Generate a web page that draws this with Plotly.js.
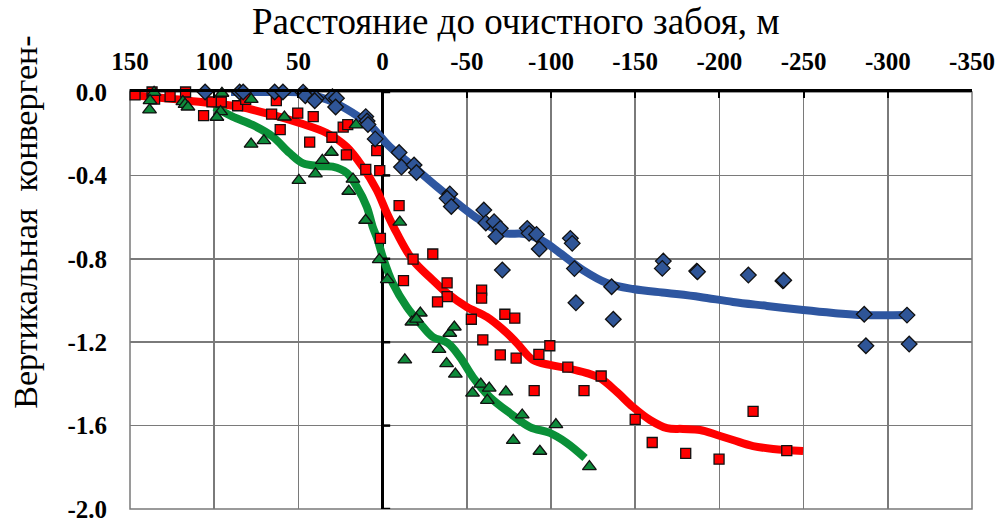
<!DOCTYPE html>
<html><head><meta charset="utf-8">
<script src="https://cdn.plot.ly/plotly-3.0.1.min.js"></script>
<style>html,body{margin:0;padding:0;background:#fff}</style>
</head><body>
<div id="chart" style="width:1000px;height:522px"></div>
<script>
// Tick labels
const xTickVals = [150,100,50,0,-50,-100,-150,-200,-250,-300,-350];
const xTickText = ['150','100','50','0','-50','-100','-150','-200','-250','-300','-350'];
const yTickVals = [0,-0.4,-0.8,-1.2,-1.6,-2.0];
const yTickText = ['0.0','-0.4','-0.8','-1.2','-1.6','-2.0'];

// Blue series (diamonds) and its trend line
const blueX = [105.4,84.9,82.8,64.1,59.2,47.2,45.9,39.4,40.3,29.8,27.4,27.9,10.0,9.2,8.7,4.4,-9.8,-11.2,-18.7,-20.1,-39.9,-38.3,-40.8,-60.1,-61.3,-66.2,-69.9,-67.3,-71.1,-85.9,-87.0,-91.4,-93.0,-111.5,-112.6,-113.9,-114.8,-136.0,-137.0,-166.7,-166.1,-186.5,-187.0,-217.2,-237.7,-238.2,-286.0,-311.4,-287.0,-312.7];
const blueY = [0,0,0,0,0,-0.001,-0.018,-0.031,-0.042,-0.023,-0.030,-0.072,-0.118,-0.139,-0.156,-0.225,-0.290,-0.360,-0.350,-0.386,-0.489,-0.510,-0.549,-0.566,-0.628,-0.622,-0.654,-0.693,-0.854,-0.654,-0.678,-0.683,-0.753,-0.702,-0.726,-0.847,-1.011,-0.934,-1.090,-0.811,-0.846,-0.859,-0.862,-0.878,-0.906,-0.903,-1.066,-1.070,-1.217,-1.209];
const blueLineX = [90,60,45,41.5,29.6,17.7,7.6,-4.2,-17.9,-32.2,-44.1,-57.7,-71.4,-84.5,-95.2,-105.3,-119.0,-133.2,-148.7,-168.9,-188.5,-208.1,-228.3,-249.7,-267.6,-285.4,-311.5];
const blueLineY = [0,0,-0.004,-0.014,-0.047,-0.100,-0.158,-0.262,-0.355,-0.454,-0.532,-0.614,-0.676,-0.681,-0.715,-0.772,-0.854,-0.916,-0.945,-0.964,-0.983,-1.007,-1.026,-1.046,-1.060,-1.070,-1.070];

// Red series (squares) and its trend line
const redX = [147.0,136.9,135.4,126.2,117.0,106.3,101.3,95.8,86.1,81.3,63.1,65.9,60.8,50.4,41.2,43.3,30.1,23.4,20.7,21.5,10.0,3.5,1.7,-9.8,1.3,-18.1,-29.8,-12.4,-38.3,-38.3,-32.6,-58.8,-58.8,-52.7,-72.6,-78.5,-59.5,-69.9,-79.3,-92.8,-99.3,-90.0,-110.0,-119.6,-129.8,-150.0,-160.1,-180.0,-199.8,-220.0,-240.0];
const redY = [-0.014,0,-0.034,-0.022,0,-0.113,-0.047,-0.048,-0.066,-0.035,-0.041,-0.106,-0.180,-0.101,-0.118,-0.240,-0.217,-0.168,-0.156,-0.302,-0.371,-0.281,-0.377,-0.545,-0.702,-0.802,-0.777,-0.905,-0.915,-0.981,-1.007,-0.950,-0.989,-1.090,-1.066,-1.085,-1.189,-1.261,-1.276,-1.258,-1.217,-1.432,-1.320,-1.432,-1.362,-1.570,-1.681,-1.733,-1.761,-1.532,-1.720];
const redLineX = [150,118.8,102.7,84.9,65.3,49.3,33.2,21.3,11.8,3.5,-2.5,-8.4,-17.9,-29.8,-38.1,-50.0,-61.9,-73.8,-79.7,-89.2,-99.3,-109.4,-121.3,-129.1,-139.2,-148.7,-158.8,-168.9,-178.4,-188.5,-198.6,-208.1,-220.0,-231.9,-249.7];
const redLineY = [-0.014,-0.038,-0.053,-0.071,-0.110,-0.149,-0.197,-0.264,-0.360,-0.470,-0.580,-0.676,-0.806,-0.902,-0.964,-1.031,-1.079,-1.156,-1.204,-1.285,-1.309,-1.324,-1.348,-1.372,-1.439,-1.511,-1.573,-1.612,-1.616,-1.621,-1.645,-1.669,-1.698,-1.712,-1.722];

// Green series (triangles) and its trend line
const greenX = [135.7,138.1,138.4,118.6,117.3,115.6,95.4,96.2,98.4,78.0,78.1,70.5,58.3,49.7,39.9,35.8,30.4,20.1,17.6,15.8,10.1,-10.2,2.0,-2.8,-22.4,-17.4,-20.1,-13.2,-33.5,-39.9,-42.6,-38.0,-43.2,-58.3,-53.4,-63.3,-62.2,-73.2,-82.9,-77.6,-93.4,-102.9,-122.8];
const greenY = [-0.002,-0.041,-0.086,-0.046,-0.059,-0.072,-0.006,-0.094,-0.121,-0.035,-0.250,-0.233,-0.120,-0.424,-0.393,-0.328,-0.289,-0.476,-0.418,-0.158,-0.615,-0.624,-0.804,-0.900,-1.060,-1.103,-1.089,-1.285,-1.234,-1.157,-1.127,-1.303,-1.353,-1.401,-1.444,-1.420,-1.479,-1.438,-1.549,-1.671,-1.723,-1.595,-1.797];
const greenLineX = [99.8,89.1,77.2,65.3,55.2,47.5,37.4,29.7,21.3,15.4,9.4,5.9,2.9,-0.1,-6.0,-14.4,-22.1,-29.8,-38.7,-45.9,-53.6,-63.7,-75.6,-87.5,-99.3,-109.4,-120.2];
const greenLineY = [-0.072,-0.118,-0.158,-0.214,-0.293,-0.341,-0.355,-0.358,-0.388,-0.454,-0.550,-0.646,-0.710,-0.791,-0.916,-1.031,-1.108,-1.175,-1.204,-1.271,-1.367,-1.463,-1.540,-1.607,-1.635,-1.683,-1.755];

const xTitle = 'Расстояние до очистного забоя, м';
const yTitle = 'Вертикальная\u00a0\u00a0конверген-';

const BLUE = '#2E56A0', RED = '#FF0000', GREEN = '#0A9038';
const SERIF = 'Liberation Serif, Times New Roman, serif';

function lineTrace(x, y, color) {
  return {x, y, type: 'scatter', mode: 'lines', hoverinfo: 'skip',
    line: {color, width: 8, shape: 'spline', smoothing: 1}};
}
function markerTrace(x, y, symbol, fill, size) {
  return {x, y, type: 'scatter', mode: 'markers', cliponaxis: false,
    marker: {symbol, color: fill, size, line: {color: '#111', width: 1.3}}};
}

const data = [
  lineTrace(blueLineX, blueLineY, BLUE),
  lineTrace(redLineX, redLineY, RED),
  lineTrace(greenLineX, greenLineY, GREEN),
  markerTrace(redX, redY, 'square', RED, 10),
  markerTrace(blueX, blueY, 'diamond', '#2F5597', 12),
  markerTrace(greenX, greenY, 'triangle-up', '#0E8A3A', 12)
];

const shapes = [
  {type: 'rect', xref: 'paper', yref: 'paper', x0: 0, x1: 1, y0: 0, y1: 1,
   line: {color: '#7a7a7a', width: 1.5}, layer: 'below'}
].concat(yTickVals.map(v => ({type: 'line', xref: 'x', yref: 'y', x0: 0, x1: -4.5, y0: v, y1: v,
   line: {color: '#000', width: 2.5}})));

const tickFont = {family: SERIF, size: 25, color: '#000', weight: 'bold'};

const layout = {
  width: 1000, height: 522,
  margin: {l: 130, r: 28, t: 92, b: 13, pad: 0},
  paper_bgcolor: '#fff', plot_bgcolor: '#fff',
  showlegend: false,
  font: {family: SERIF, color: '#000'},
  xaxis: {
    range: [150, -350], side: 'top',
    tickmode: 'array', tickvals: xTickVals, ticktext: xTickText,
    tickfont: tickFont,
    ticks: 'inside', ticklen: 6, tickwidth: 2, tickcolor: '#000',
    ticklabelstandoff: 9,
    showline: true, linecolor: '#000', linewidth: 3,
    showgrid: true, gridcolor: '#7a7a7a', gridwidth: 1.5,
    zeroline: true, zerolinecolor: '#000', zerolinewidth: 3
  },
  yaxis: {
    range: [-2.0, 0],
    tickmode: 'array', tickvals: yTickVals, ticktext: yTickText,
    tickfont: tickFont,
    ticks: '', ticklabelstandoff: 22, ticklabeloverflow: 'allow',
    showline: false, showgrid: true, gridcolor: '#7a7a7a', gridwidth: 1.5,
    zeroline: false
  },
  shapes: shapes,
  annotations: [
    {text: xTitle, xref: 'paper', yref: 'paper', x: 0.459, y: 1.170,
     xanchor: 'center', yanchor: 'middle', showarrow: false,
     font: {family: SERIF, size: 37, color: '#000'}},
    {text: yTitle, xref: 'paper', yref: 'paper', x: -0.124, y: 0.688,
     xanchor: 'center', yanchor: 'middle', showarrow: false, textangle: -90,
     font: {family: SERIF, size: 34, color: '#000'}}
  ]
};

Plotly.newPlot('chart', data, layout, {staticPlot: true, displayModeBar: false});
</script>
</body></html>
